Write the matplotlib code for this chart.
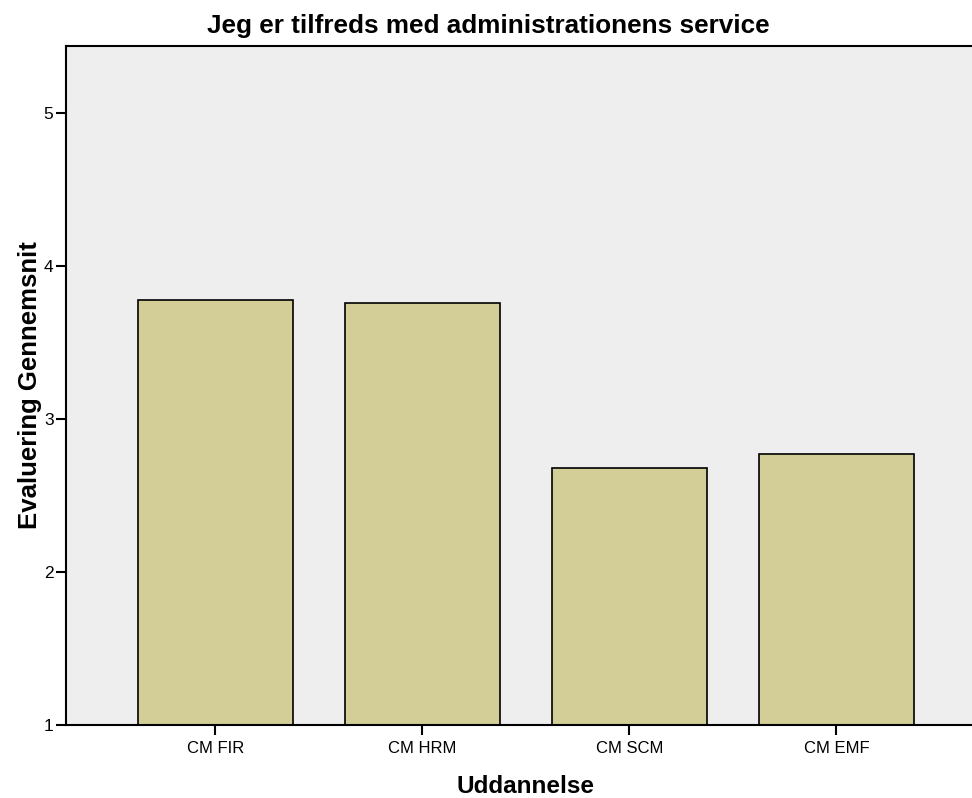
import matplotlib
matplotlib.use("Agg")
import matplotlib.pyplot as plt
import numpy as np

plt.rcParams['font.family'] = ['Liberation Sans', 'DejaVu Sans']

categories = ["CM FIR", "CM HRM", "CM SCM", "CM EMF"]
means = [3.78, 3.76, 2.68, 2.77]
yticks = [1, 2, 3, 4, 5]

fig = plt.figure(figsize=(9.72, 7.98), dpi=100)
ax = fig.add_axes([0.0679, 0.0919, 0.9321, 0.8508])
ax.set_facecolor("#eeeeee")

x = np.arange(len(categories))
ax.bar(x, means, width=0.75, bottom=0, color="#d3ce97",
       edgecolor="black", linewidth=1.2, zorder=2)

ax.set_xlim(-0.722, 3.655)
ax.set_ylim(1, 5.44)
ax.set_xticks(x)
ax.set_xticklabels(categories, fontsize=12)
ax.set_yticks(yticks)
ax.set_yticklabels([str(t) for t in yticks], fontsize=12.5)
ax.tick_params(axis='both', direction='out', length=7, width=1.5, color='black')
ax.tick_params(axis='x', pad=5)
ax.tick_params(axis='y', pad=2)

for side in ['left', 'top', 'bottom']:
    ax.spines[side].set_linewidth(1.5)
ax.spines['right'].set_visible(False)

ax.set_xlabel("Uddannelse", fontsize=17.5, fontweight='bold')
ax.xaxis.set_label_coords(0.507, -0.074)
ax.set_ylabel("Evaluering Gennemsnit", fontsize=18.5, fontweight='bold', labelpad=1)
fig.text(0.502, 0.968, "Jeg er tilfreds med administrationens service",
         ha='center', va='center', fontsize=18.8, fontweight='bold')

fig.savefig("out.png", dpi=100)
